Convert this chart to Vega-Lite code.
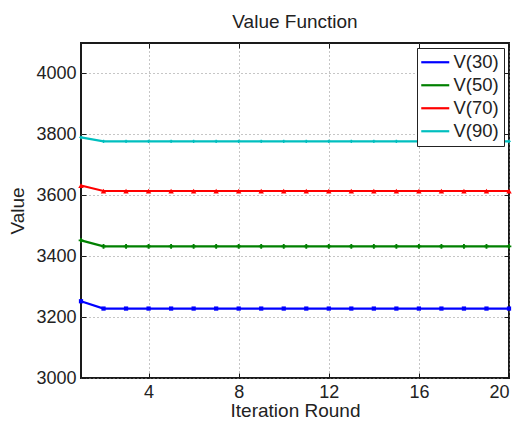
{
  "$schema": "https://vega.github.io/schema/vega-lite/v6.json",
  "autosize": "none",
  "width": 428,
  "height": 335,
  "padding": {"left": 81, "top": 43, "right": 9, "bottom": 44},
  "background": "white",
  "title": {
    "text": "Value Function",
    "fontSize": 19,
    "fontWeight": "normal",
    "font": "Liberation Sans",
    "color": "#222",
    "offset": 11,
    "anchor": "middle"
  },
  "data": {
    "values": [
      {"iter": 1, "V(30)": 3252, "V(50)": 3452, "V(70)": 3632, "V(90)": 3790},
      {"iter": 2, "V(30)": 3228, "V(50)": 3432, "V(70)": 3614, "V(90)": 3777},
      {"iter": 3, "V(30)": 3228, "V(50)": 3432, "V(70)": 3614, "V(90)": 3777},
      {"iter": 4, "V(30)": 3228, "V(50)": 3432, "V(70)": 3614, "V(90)": 3777},
      {"iter": 5, "V(30)": 3228, "V(50)": 3432, "V(70)": 3614, "V(90)": 3777},
      {"iter": 6, "V(30)": 3228, "V(50)": 3432, "V(70)": 3614, "V(90)": 3777},
      {"iter": 7, "V(30)": 3228, "V(50)": 3432, "V(70)": 3614, "V(90)": 3777},
      {"iter": 8, "V(30)": 3228, "V(50)": 3432, "V(70)": 3614, "V(90)": 3777},
      {"iter": 9, "V(30)": 3228, "V(50)": 3432, "V(70)": 3614, "V(90)": 3777},
      {"iter": 10, "V(30)": 3228, "V(50)": 3432, "V(70)": 3614, "V(90)": 3777},
      {"iter": 11, "V(30)": 3228, "V(50)": 3432, "V(70)": 3614, "V(90)": 3777},
      {"iter": 12, "V(30)": 3228, "V(50)": 3432, "V(70)": 3614, "V(90)": 3777},
      {"iter": 13, "V(30)": 3228, "V(50)": 3432, "V(70)": 3614, "V(90)": 3777},
      {"iter": 14, "V(30)": 3228, "V(50)": 3432, "V(70)": 3614, "V(90)": 3777},
      {"iter": 15, "V(30)": 3228, "V(50)": 3432, "V(70)": 3614, "V(90)": 3777},
      {"iter": 16, "V(30)": 3228, "V(50)": 3432, "V(70)": 3614, "V(90)": 3777},
      {"iter": 17, "V(30)": 3228, "V(50)": 3432, "V(70)": 3614, "V(90)": 3777},
      {"iter": 18, "V(30)": 3228, "V(50)": 3432, "V(70)": 3614, "V(90)": 3777},
      {"iter": 19, "V(30)": 3228, "V(50)": 3432, "V(70)": 3614, "V(90)": 3777},
      {"iter": 20, "V(30)": 3228, "V(50)": 3432, "V(70)": 3614, "V(90)": 3777}
    ]
  },
  "transform": [
    {"fold": ["V(30)", "V(50)", "V(70)", "V(90)"], "as": ["series", "value"]}
  ],
  "encoding": {
    "x": {
      "field": "iter",
      "type": "quantitative",
      "scale": {"domain": [1, 20], "nice": false, "zero": false},
      "axis": null
    },
    "y": {
      "field": "value",
      "type": "quantitative",
      "scale": {"domain": [3000, 4100], "nice": false, "zero": false},
      "axis": null
    }
  },
  "layer": [
    {
      "mark": {"type": "line", "strokeWidth": 2.2},
      "encoding": {
        "x": {
          "field": "iter",
          "type": "quantitative",
          "axis": {
            "title": "Iteration Round",
            "titleFontSize": 19,
            "values": [4, 8, 12, 16, 20],
            "grid": true,
            "titlePadding": 0,
            "labelPadding": 10
          }
        },
        "y": {
          "field": "value",
          "type": "quantitative",
          "axis": {
            "title": "Value",
            "titleFontSize": 19,
            "format": "d",
            "values": [3000, 3200, 3400, 3600, 3800, 4000],
            "grid": true,
            "titlePadding": 8,
            "labelPadding": 10
          }
        },
        "color": {
          "field": "series",
          "type": "nominal",
          "scale": {
            "domain": ["V(30)", "V(50)", "V(70)", "V(90)"],
            "range": ["#0000ff", "#008000", "#ff0000", "#00bfbf"]
          },
          "legend": {
            "title": null,
            "orient": "top-right",
            "offset": 5,
            "padding": 5,
            "fillColor": "white",
            "strokeColor": "#222",
            "symbolType": "M-2,0H3.6",
            "symbolSize": 100,
            "symbolStrokeWidth": 2.2,
            "labelFontSize": 18.5,
            "labelFont": "Liberation Sans",
            "labelColor": "#222",
            "labelOffset": 13,
            "rowPadding": 4
          }
        }
      }
    },
    {
      "transform": [{"filter": "datum.series === 'V(30)'"}],
      "mark": {"type": "point", "shape": "square", "filled": true, "opacity": 1, "size": 18, "color": "#0000ff"},
      "encoding": {}
    },
    {
      "transform": [{"filter": "datum.series === 'V(50)'"}],
      "mark": {"type": "point", "shape": "cross", "filled": true, "opacity": 1, "size": 22, "color": "#008000"},
      "encoding": {}
    },
    {
      "transform": [{"filter": "datum.series === 'V(70)'"}],
      "mark": {"type": "point", "shape": "triangle-up", "filled": true, "opacity": 1, "size": 30, "color": "#ff0000"},
      "encoding": {}
    },
    {
      "transform": [{"filter": "datum.series === 'V(90)'"}],
      "mark": {"type": "point", "shape": "cross", "filled": true, "opacity": 1, "size": 12, "color": "#00bfbf"},
      "encoding": {
        "x": {
          "field": "iter",
          "type": "quantitative",
          "axis": {"orient": "top", "values": [4, 8, 12, 16, 20], "labels": false, "title": null, "grid": false}
        },
        "y": {
          "field": "value",
          "type": "quantitative",
          "axis": {"orient": "right", "values": [3000, 3200, 3400, 3600, 3800, 4000], "labels": false, "title": null, "grid": false}
        }
      }
    }
  ],
  "resolve": {"axis": {"x": "independent", "y": "independent"}},
  "config": {
    "font": "Liberation Sans",
    "view": {"stroke": "#1a1a1a", "strokeWidth": 2},
    "axis": {
      "domain": false,
      "ticks": true,
      "tickSize": -5,
      "tickColor": "#1a1a1a",
      "tickWidth": 1,
      "gridColor": "#8c8c8c",
      "gridDash": [1, 3],
      "gridWidth": 1,
      "gridOpacity": 1,
      "labelFontSize": 18,
      "labelFont": "Liberation Sans",
      "labelColor": "#222",
      "titleFontSize": 18,
      "titleFont": "Liberation Sans",
      "titleFontWeight": "normal",
      "titleColor": "#222"
    }
  }
}
